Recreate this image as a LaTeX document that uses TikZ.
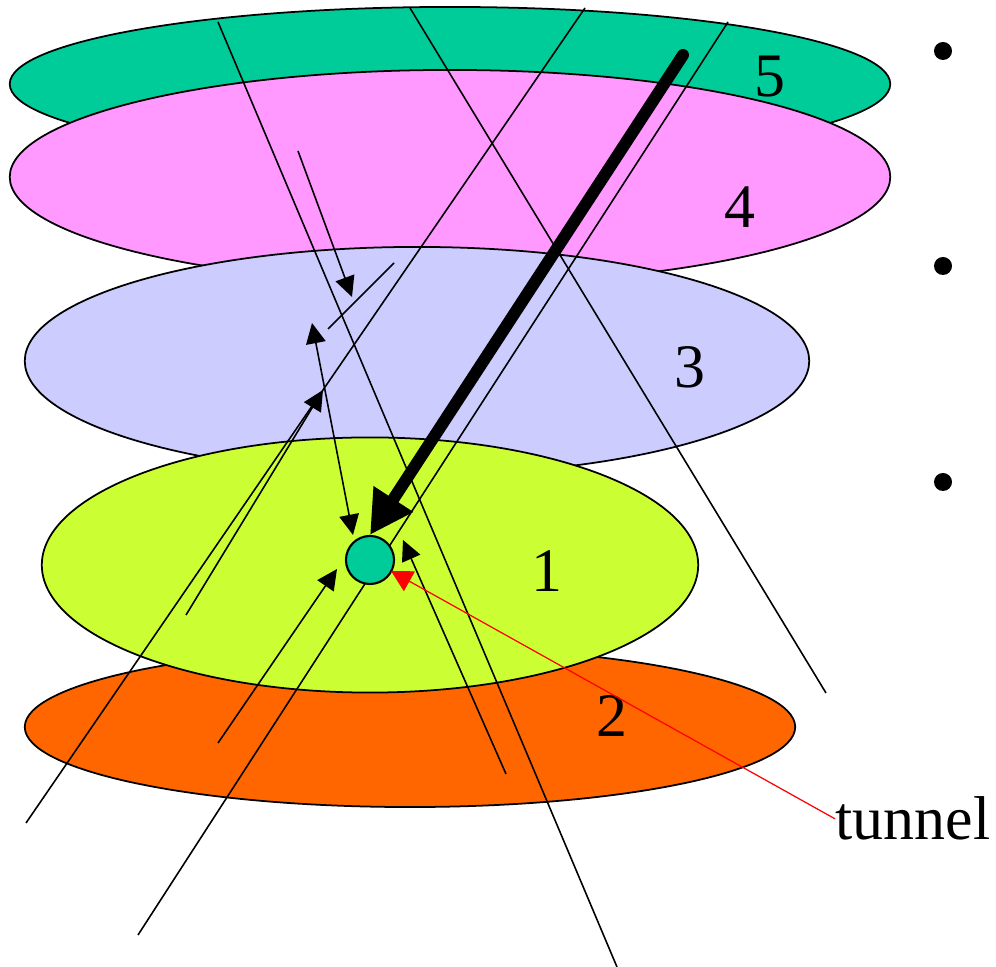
\documentclass[tikz,border=0pt]{standalone}
\usepackage{fontspec}
\setmainfont{Liberation Serif}
\usepackage{xcolor}
\definecolor{lteal}{HTML}{00CC99}
\definecolor{lpink}{HTML}{FF99FF}
\definecolor{llav}{HTML}{CCCCFF}
\definecolor{llime}{HTML}{CCFF33}
\definecolor{lorange}{HTML}{FF6600}
\usetikzlibrary{arrows.meta}

\begin{document}
\begin{tikzpicture}[x=0.01cm,y=-0.01cm,
  layer/.style={draw=black,line width=0.5pt},
  num/.style={inner sep=0pt,font=\fontsize{17.6}{20}\selectfont},
  ray/.style={line width=0.45pt,black},
  ar/.style={ray,-{Triangle[length=5.8pt,width=5.6pt]}},
  dar/.style={ray,{Triangle[length=5.8pt,width=5.6pt]}-{Triangle[length=5.8pt,width=5.6pt]}},
  big/.style={line width=3.4pt,line cap=round,-{Triangle[length=12.2pt,width=12.6pt]}},
  dot/.style={circle,fill=black,inner sep=0pt,minimum size=0.18cm}]
\useasboundingbox (0,0) rectangle (996,967);

\filldraw[layer,fill=lteal] (450,84) ellipse [x radius=4.40cm,y radius=0.77cm];
\filldraw[layer,fill=lpink] (450,177) ellipse [x radius=4.40cm,y radius=1.07cm];
\filldraw[layer,fill=llav] (417,361) ellipse [x radius=3.92cm,y radius=1.14cm];
\filldraw[layer,fill=lorange] (410,727) ellipse [x radius=3.85cm,y radius=0.80cm];
\filldraw[layer,fill=llime] (370,565) ellipse [x radius=3.28cm,y radius=1.275cm];

\node[num] (n5) at (770,77) {5};
\node[num] (n4) at (740,207) {4};
\node[num] (n3) at (690,367) {3};
\node[num] (n1) at (547,571) {1};
\node[num] (n2) at (612,716) {2};

\coordinate (p1a) at (218,22);  \coordinate (p1b) at (617,967);
\coordinate (p2a) at (410,8);   \coordinate (p2b) at (826,693);
\coordinate (p3a) at (585,8);   \coordinate (p3b) at (26,823);
\coordinate (p4a) at (728,22);  \coordinate (p4b) at (138,935);
\draw[ray] (p1a) -- (p1b);
\draw[ray] (p2a) -- (p2b);
\draw[ray] (p3a) -- (p3b);
\draw[ray] (p4a) -- (p4b);

\coordinate (a1a) at (298,151); \coordinate (a1b) at (352,297);
\coordinate (a2a) at (394,263); \coordinate (a2b) at (328,329);
\coordinate (a3a) at (312,323); \coordinate (a3b) at (353,535);
\coordinate (a4a) at (218,743); \coordinate (a4b) at (337,569);
\coordinate (a5a) at (186,615); \coordinate (a5b) at (323,390);
\coordinate (a6a) at (506,774); \coordinate (a6b) at (403,540);
\draw[ar] (a1a) -- (a1b);
\draw[ray] (a2a) -- (a2b);
\draw[dar] (a3a) -- (a3b);
\draw[ar] (a4a) -- (a4b);
\draw[ar] (a5a) -- (a5b);
\draw[ar] (a6a) -- (a6b);

\node[circle,draw,fill=lteal,line width=0.6pt,inner sep=0pt,minimum size=0.48cm]
  (ball) at (370,560) {};
\coordinate (src) at (683,55);
\draw[big] (src) -- (ball.north);

\node[num,anchor=base west] (tun) at (835,840) {tunnel};
\coordinate (hole) at (391,571);
\draw[red,line width=0.35pt,-{Triangle[length=6pt,width=6.4pt]}] (tun.west) -- (hole);

\node[dot] (b1) at (943,51) {};
\node[dot] (b2) at (943,266) {};
\node[dot] (b3) at (943,482) {};
\end{tikzpicture}
\end{document}
